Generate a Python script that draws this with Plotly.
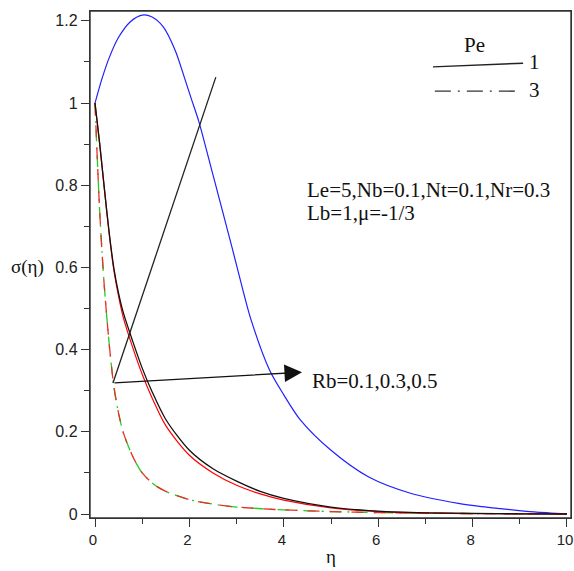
import plotly.graph_objects as go

# ---- data ----
eta_a = [0, 0.1, 0.2, 0.3, 0.4, 0.5, 0.6, 0.8, 1.0, 1.2, 1.5, 2.0, 2.5, 3.0, 3.5, 4.0, 5.0, 6.0, 7.0, 8.0, 9.0, 10.0]
sigma_pe1_rb01 = [1.0, 0.90, 0.79, 0.685, 0.598, 0.537, 0.49, 0.42, 0.355, 0.30, 0.23, 0.155, 0.11, 0.08, 0.055, 0.038, 0.017, 0.007, 0.003, 0.0015, 0.0005, 0.0]
sigma_pe1_rb03 = [1.0, 0.90, 0.79, 0.683, 0.593, 0.530, 0.478, 0.405, 0.34, 0.285, 0.215, 0.143, 0.10, 0.07, 0.049, 0.034, 0.015, 0.006, 0.0025, 0.001, 0.0004, 0.0]

eta_b = [0, 0.15, 0.3, 0.5, 0.75, 1.0, 1.2, 1.45, 1.7, 1.9, 2.05, 2.2, 2.5, 2.9, 3.1, 3.3, 3.7, 4.0, 4.35, 5.0, 5.8, 6.7, 7.7, 8.2, 8.6, 9.3, 10.0]
sigma_pe1_rb05 = [1.0, 1.06, 1.11, 1.16, 1.198, 1.214, 1.21, 1.185, 1.128, 1.06, 1.007, 0.955, 0.825, 0.65, 0.56, 0.475, 0.35, 0.29, 0.229, 0.155, 0.09, 0.05, 0.026, 0.018, 0.013, 0.005, 0.0]

eta_c = [0, 0.05, 0.1, 0.15, 0.2, 0.3, 0.4, 0.5, 0.6, 0.8, 1.0, 1.25, 1.5, 2.0, 2.5, 3.0, 4.0, 5.0, 6.0, 7.0, 8.0, 9.0, 10.0]
sigma_pe3_rb01 = [1.0, 0.86, 0.735, 0.635, 0.55, 0.415, 0.31, 0.245, 0.198, 0.14, 0.10, 0.072, 0.055, 0.035, 0.024, 0.017, 0.010, 0.006, 0.0035, 0.002, 0.001, 0.0005, 0.0]
sigma_pe3_rb03 = [1.0, 0.86, 0.735, 0.635, 0.55, 0.415, 0.31, 0.245, 0.198, 0.14, 0.10, 0.072, 0.055, 0.035, 0.024, 0.017, 0.010, 0.006, 0.0035, 0.002, 0.001, 0.0005, 0.0]

SERIF = "Liberation Serif, Times New Roman, serif"
SANS = "Liberation Sans, Arial, sans-serif"

fig = go.Figure()
fig.add_trace(go.Scatter(x=eta_c, y=sigma_pe3_rb03, mode="lines",
                         line=dict(color="#22cc22", width=1.3, dash="12px,6px,2px,6px", shape="spline", smoothing=0.8)))
fig.add_trace(go.Scatter(x=eta_c, y=sigma_pe3_rb01, mode="lines",
                         line=dict(color="#e8302a", width=1.3, dash="12px,10px", shape="spline", smoothing=0.8)))
fig.add_trace(go.Scatter(x=eta_b, y=sigma_pe1_rb05, mode="lines",
                         line=dict(color="#2020ff", width=1.2, shape="spline", smoothing=0.8)))
fig.add_trace(go.Scatter(x=eta_a, y=sigma_pe1_rb03, mode="lines",
                         line=dict(color="#ff0000", width=1.2, shape="spline", smoothing=0.8)))
fig.add_trace(go.Scatter(x=eta_a, y=sigma_pe1_rb01, mode="lines",
                         line=dict(color="#111111", width=1.3, shape="spline", smoothing=0.8)))

axis_common = dict(showgrid=False, zeroline=False, showline=True, mirror=True, automargin=False,
                   linecolor="#333333", linewidth=1.4, ticks="outside", tickcolor="#333333",
                   tickwidth=1.4, ticklen=8, tickmode="linear", tick0=0,
                   ticklabeloverflow="allow")

fig.update_xaxes(range=[-0.106, 10.085], dtick=2, ticklabelshift=-2,
                 tickfont=dict(family=SANS, size=15, color="#222"),
                 minor=dict(ticks="outside", ticklen=5, dtick=1, tickcolor="#333333", tickwidth=1.4, showgrid=False),
                 **axis_common)
fig.update_yaxes(range=[-0.0097, 1.224], dtick=0.2,
                 tickfont=dict(family=SANS, size=16, color="#222"),
                 minor=dict(ticks="outside", ticklen=5, dtick=0.1, tickcolor="#333333", tickwidth=1.4, showgrid=False),
                 **axis_common)

# plot frame
fig.add_shape(type="rect", xref="paper", yref="paper", x0=0, y0=0, x1=1, y1=1,
              line=dict(color="#333333", width=1.4), fillcolor="rgba(0,0,0,0)", layer="above")

# pointer lines / arrow
fig.add_shape(type="line", xref="x", yref="y", x0=0.381, y0=0.319, x1=2.56, y1=1.063,
              line=dict(color="#222", width=1.3))
fig.add_annotation(x=4.386, y=0.345, ax=0.381, ay=0.319, xref="x", yref="y", axref="x", ayref="y",
                   text="", showarrow=True, arrowhead=2, arrowsize=2.7, arrowwidth=1.3, arrowcolor="#111")

# legend made of lines + text
fig.add_shape(type="line", xref="x", yref="y", x0=7.16, y0=1.088, x1=9.07, y1=1.097,
              line=dict(color="#222", width=1.4))
fig.add_shape(type="line", xref="x", yref="y", x0=7.20, y0=1.029, x1=8.94, y1=1.029,
              line=dict(color="#333", width=1.4, dash="16px,7px,2px,7px"))

texts = [
    dict(x=8.03, y=1.141, text="Pe", xanchor="center", size=21),
    dict(x=9.15, y=1.10, text="1", xanchor="left", size=21),
    dict(x=9.15, y=1.032, text="3", xanchor="left", size=21),
    dict(x=4.45, y=0.788, text="Le=5,Nb=0.1,Nt=0.1,Nr=0.3", xanchor="left", size=21),
    dict(x=4.45, y=0.732, text="Lb=1,\u03bc=-1/3", xanchor="left", size=21),
    dict(x=4.555, y=0.324, text="Rb=0.1,0.3,0.5", xanchor="left", size=21),
]
for t in texts:
    fig.add_annotation(x=t["x"], y=t["y"], xref="x", yref="y", text=t["text"], showarrow=False,
                       xanchor=t["xanchor"], yanchor="middle",
                       font=dict(family=SERIF, size=t["size"], color="#111"))

# axis titles
fig.add_annotation(x=-0.0915, y=0.6, xref="paper", yref="y", text="\u03c3(\u03b7)", showarrow=False,
                   xanchor="right", yanchor="middle", font=dict(family=SERIF, size=19, color="#111"))
fig.add_annotation(x=5.0, y=-0.075, xref="x", yref="paper", text="\u03b7", showarrow=False,
                   xanchor="center", yanchor="middle", font=dict(family=SERIF, size=19, color="#111"))

fig.update_layout(width=574, height=571, margin=dict(l=90, r=3, t=11, b=53, autoexpand=False),
                  plot_bgcolor="white", paper_bgcolor="white", showlegend=False)

fig.write_html("out.html", config={"displayModeBar": False},
               post_script="document.body.style.margin='0px';")
